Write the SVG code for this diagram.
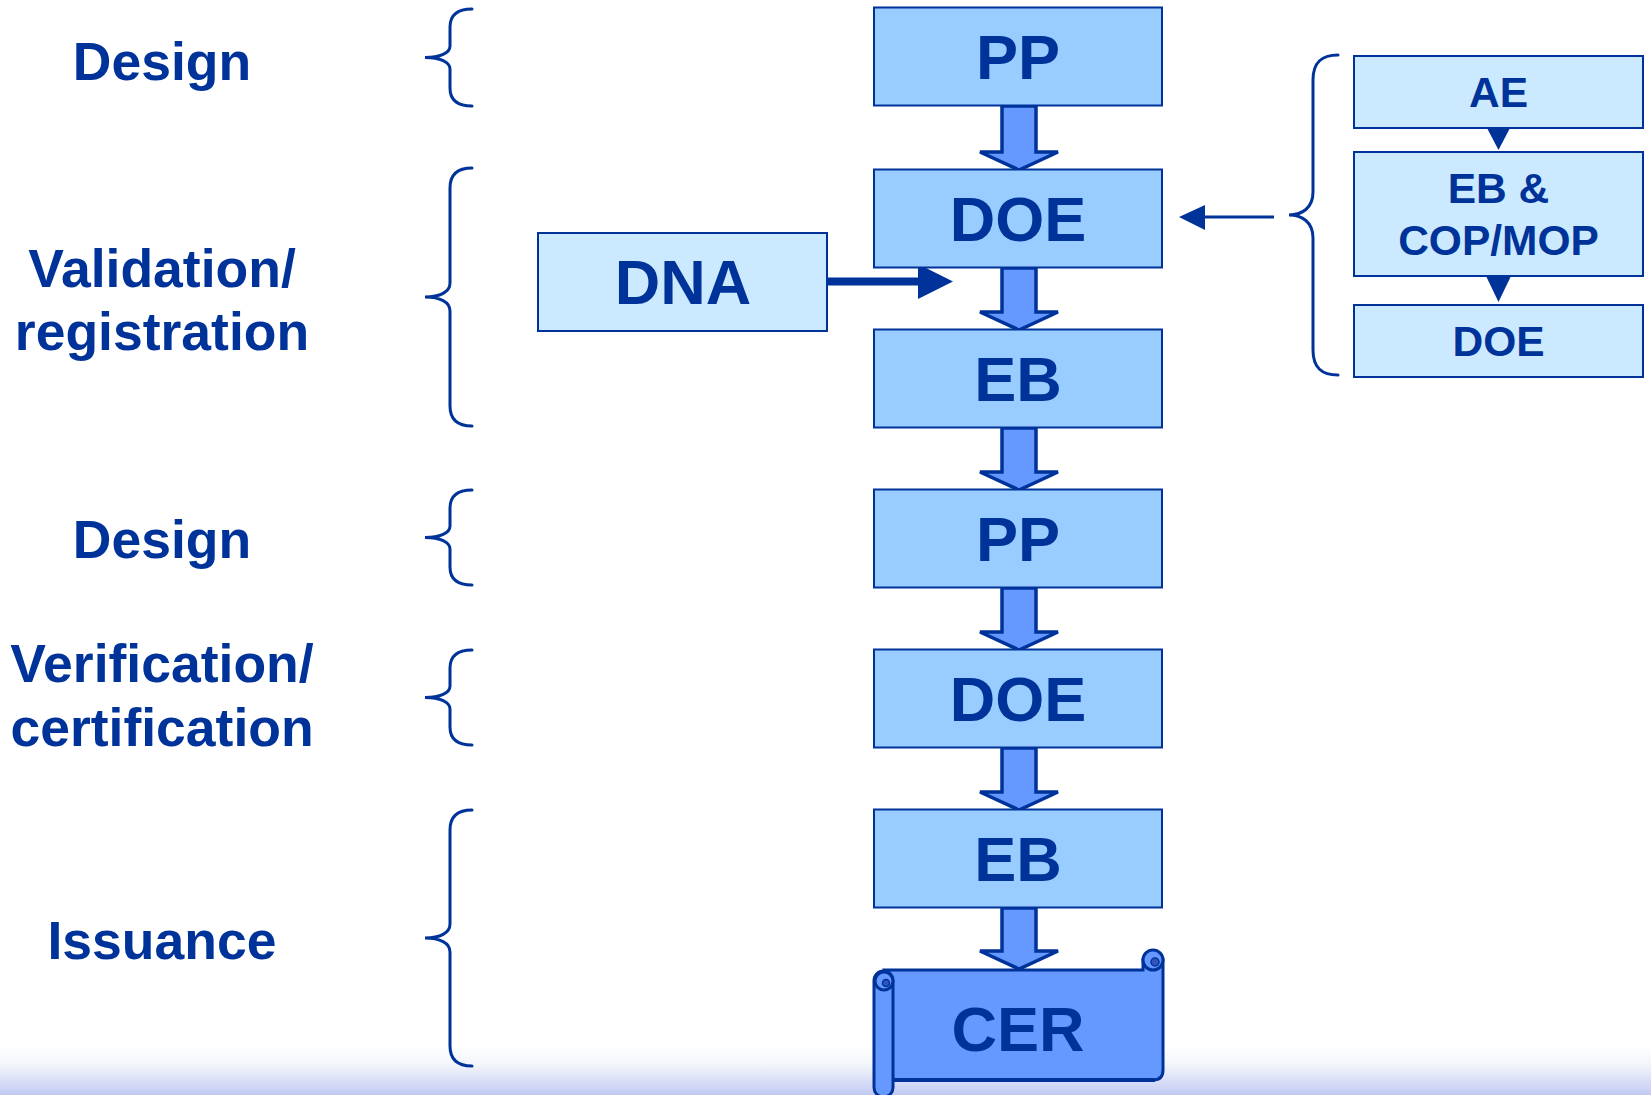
<svg xmlns="http://www.w3.org/2000/svg" width="1651" height="1095" viewBox="0 0 1651 1095">
<defs>
<linearGradient id="bg" x1="0" y1="0" x2="0" y2="1">
<stop offset="0" stop-color="#ffffff"/>
<stop offset="0.4" stop-color="#f2f5fb"/>
<stop offset="1" stop-color="#c2caf3"/>
</linearGradient>
<style>
.lbl{font-family:"Liberation Sans",Arial,sans-serif;font-weight:bold;fill:#003399;text-anchor:middle}
.side{font-size:53.5px}
.main{font-size:63px}
.small{font-size:42.5px}
.box{fill:#99ccff;stroke:#003399;stroke-width:2}
.lbox{fill:#cceaff;stroke:#003399;stroke-width:2}
.brace{fill:none;stroke:#003399;stroke-width:3;stroke-linecap:round}
.barrow{fill:#6699ff;stroke:#003399;stroke-width:3.5;stroke-linejoin:miter}
.scroll{fill:#6699ff;stroke:#003399;stroke-width:3}
</style>
</defs>
<rect x="0" y="0" width="1651" height="1095" fill="#ffffff"/>
<rect x="0" y="1045" width="1651" height="50" fill="url(#bg)"/>

<g id="labels">
<text class="lbl side" x="162" y="80">Design</text>
<text class="lbl side" x="162" y="287">Validation/</text>
<text class="lbl side" x="162" y="350">registration</text>
<text class="lbl side" x="162" y="558">Design</text>
<text class="lbl side" x="162" y="682">Verification/</text>
<text class="lbl side" x="162" y="746">certification</text>
<text class="lbl side" x="162" y="959">Issuance</text>
</g>

<g id="braces">
<path class="brace" d="M472 9 C458 9 450 15 450 27 V46 C450 53 440 57.5 425 57.5 C440 57.5 450 62 450 69 V88 C450 100 458 106 472 106"/>
<path class="brace" d="M472 168 C458 168 450 174 450 188 V283 C450 292 440 297 425 297 C440 297 450 302 450 311 V406 C450 420 458 426 472 426"/>
<path class="brace" d="M472 490 C458 490 450 496 450 508 V526 C450 533 440 537.5 425 537.5 C440 537.5 450 542 450 549 V567 C450 579 458 585 472 585"/>
<path class="brace" d="M472 650 C458 650 450 656 450 668 V686 C450 693 440 697.5 425 697.5 C440 697.5 450 702 450 709 V727 C450 739 458 745 472 745"/>
<path class="brace" d="M472 810 C458 810 450 816 450 830 V924 C450 933 440 938 425 938 C440 938 450 943 450 952 V1046 C450 1060 458 1066 472 1066"/>
<path class="brace" d="M1338 55 C1322 55 1313 62 1313 80 V192 C1313 208 1302 215 1289 215 C1302 215 1313 222 1313 238 V350 C1313 368 1322 375 1338 375"/>
</g>

<g id="connectors">
<path class="barrow" d="M1002 106 H1036 V152 H1058 L1019 170 L980 152 H1002 Z"/>
<path class="barrow" d="M1002 268 H1036 V312 H1058 L1019 330 L980 312 H1002 Z"/>
<path class="barrow" d="M1002 428 H1036 V472 H1058 L1019 490 L980 472 H1002 Z"/>
<path class="barrow" d="M1002 588 H1036 V632 H1058 L1019 650 L980 632 H1002 Z"/>
<path class="barrow" d="M1002 748 H1036 V792 H1058 L1019 810 L980 792 H1002 Z"/>
<path class="barrow" d="M1002 908 H1036 V951 H1058 L1019 969 L980 951 H1002 Z"/>
<line x1="827" y1="281.5" x2="922" y2="281.5" stroke="#003399" stroke-width="8"/>
<polygon points="953,281.5 918,264 918,299" fill="#003399"/>
<line x1="1203" y1="217" x2="1274" y2="217" stroke="#003399" stroke-width="3"/>
<polygon points="1179,217 1205,205 1205,230" fill="#003399"/>
<polygon points="1487,128 1510,128 1498.5,150" fill="#003399"/>
<polygon points="1486,276 1511,276 1498.5,302" fill="#003399"/>
</g>

<g id="pp1"><rect class="box" x="874" y="7.5" width="288" height="98"/><text class="lbl main" x="1018" y="79">PP</text></g>
<g id="doe1"><rect class="box" x="874" y="169.5" width="288" height="98"/><text class="lbl main" x="1018" y="241">DOE</text></g>
<g id="eb1"><rect class="box" x="874" y="329.5" width="288" height="98"/><text class="lbl main" x="1018" y="401">EB</text></g>
<g id="pp2"><rect class="box" x="874" y="489.5" width="288" height="98"/><text class="lbl main" x="1018" y="561">PP</text></g>
<g id="doe2"><rect class="box" x="874" y="649.5" width="288" height="98"/><text class="lbl main" x="1018" y="721">DOE</text></g>
<g id="eb2"><rect class="box" x="874" y="809.5" width="288" height="98"/><text class="lbl main" x="1018" y="881">EB</text></g>

<g id="dna"><rect class="lbox" x="538" y="233" width="289" height="98"/><text class="lbl main" x="683" y="304">DNA</text></g>

<g id="ae"><rect class="lbox" x="1354" y="56" width="289" height="72"/><text class="lbl small" x="1498.5" y="107">AE</text></g>
<g id="ebcop"><rect class="lbox" x="1354" y="152" width="289" height="124"/><text class="lbl small" x="1498.5" y="203">EB &amp;</text><text class="lbl small" x="1498.5" y="255">COP/MOP</text></g>
<g id="doe3"><rect class="lbox" x="1354" y="305" width="289" height="72"/><text class="lbl small" x="1498.5" y="356">DOE</text></g>

<g id="cer">
<path class="scroll" d="M884 970 H1143 V960 H1163 V1070 Q1163 1080 1153 1080 H893 Z"/>
<circle class="scroll" cx="1153" cy="960" r="10"/>
<circle cx="1155" cy="962" r="4" fill="#3355bb" stroke="#003399" stroke-width="1.5"/>
<rect class="scroll" x="874" y="971" width="19" height="126" rx="9.5"/>
<circle class="scroll" cx="884" cy="981" r="9"/>
<circle cx="886" cy="983" r="3.5" fill="#3355bb" stroke="#003399" stroke-width="1.5"/>
<line x1="893" y1="1080" x2="1155" y2="1080" stroke="#003399" stroke-width="4"/>
<text class="lbl main" x="1018" y="1051">CER</text>
</g>
</svg>
